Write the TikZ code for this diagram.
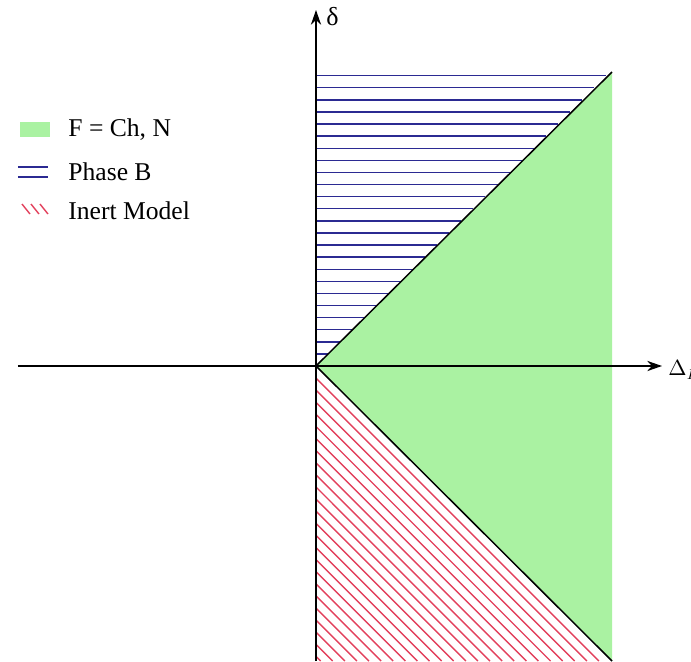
\documentclass[tikz,border=0pt]{standalone}
\usepackage{fontspec}
\setmainfont{Liberation Serif}
\usetikzlibrary{arrows.meta,positioning}
\definecolor{regiongreen}{HTML}{AAF2A2}
\definecolor{phaseblue}{HTML}{2B2A92}
\definecolor{inertred}{HTML}{E2405C}
\tikzset{
  axis/.style={-{Stealth[length=2.6mm,width=1.8mm]},line width=0.6pt,draw=black},
  border/.style={line width=0.75pt,draw=black},
  bluehatch/.style={line width=0.7pt,draw=phaseblue},
  redhatch/.style={line width=0.7pt,draw=inertred},
  legendtext/.style={anchor=west,font=\fontsize{12.8}{15}\selectfont,inner sep=0pt},
  axislabel/.style={font=\fontsize{13}{15}\selectfont,inner sep=0pt}
}
\begin{document}
\begin{tikzpicture}[x=0.5pt,y=0.5pt]
  \useasboundingbox (-316,-295) rectangle (375,366);
  \coordinate (origin) at (0,0);
  \coordinate (upcorner) at (296,294);
  \coordinate (downcorner) at (296,-295);
  \coordinate (xstart) at (-298,0);
  \coordinate (xend) at (346,0);
  \coordinate (ystart) at (0,-295);
  \coordinate (yend) at (0,356);
  \fill[regiongreen] (origin) -- (upcorner) -- (downcorner) -- cycle;
  \foreach \k in {1,...,24}{
    \draw[bluehatch] (0,12.1*\k) -- (12.1*\k,12.1*\k);
  }
  \foreach \k in {1,...,24}{
    \draw[redhatch] (0,-12.1*\k) -- (295-12.1*\k,-295);
  }
  \draw[border] (origin) -- (upcorner);
  \draw[border] (origin) -- (downcorner);
  \draw[axis] (xstart) -- (xend);
  \draw[axis] (ystart) -- (yend);
  \node[axislabel,anchor=south west] (deltalabel) at (10,340) {δ};
  \node[axislabel,anchor=west,font=\fontsize{10.5}{12}\selectfont] (Deltalabel) at (352,-4) {$\Delta_F$};
  \fill[regiongreen] (-296,229) rectangle (-266,244);
  \node[legendtext] (greenlabel) at (-248,236) {F = Ch, N};
  \draw[bluehatch] (-298,199) -- (-268,199);
  \draw[bluehatch] (-298,189) -- (-268,189);
  \node[legendtext] (bluelabel) at (-248,194) {Phase B};
  \foreach \s in {0,9,18}{
    \draw[redhatch] (-294+\s,162) -- (-286+\s,152);
  }
  \node[legendtext] (redlabel) at (-248,155) {Inert Model};
\end{tikzpicture}
\end{document}
